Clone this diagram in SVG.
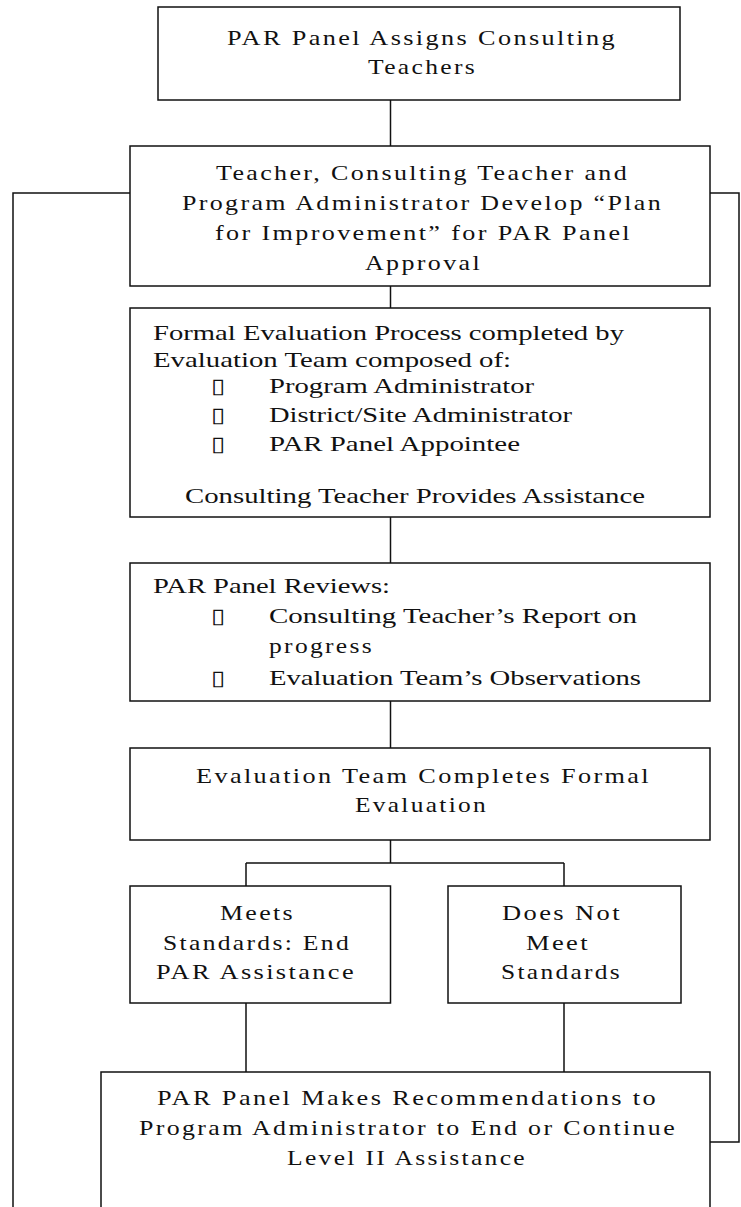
<svg xmlns="http://www.w3.org/2000/svg" width="741" height="1207" viewBox="0 0 741 1207">
<style>
rect.box{fill:#fff;stroke:#111;stroke-width:1.5}
.conn path{fill:none;stroke:#111;stroke-width:1.5}
text{font-family:"Liberation Serif","Times New Roman",serif;font-size:22px;fill:#111}
text.sp{letter-spacing:2px}
text.b{font-family:"DejaVu Sans",sans-serif;font-size:21px}
</style>
<rect width="741" height="1207" fill="#fff"/>
<g class="conn" id="connectors">
<path d="M390.5 100V146"/>
<path d="M130 193H13V1210"/>
<path d="M710 193H739V1142H710"/>
<path d="M390.5 286V308"/>
<path d="M390.5 517V563"/>
<path d="M390.5 701V748"/>
<path d="M390.5 840V863M246 863H564M246 863V886M564 863V886"/>
<path d="M246 1003V1072M564 1003V1072"/>
</g>
<g id="n1">
<rect class="box" x="158" y="7" width="522" height="93"/>
<text class="sp" x="227" y="45" textLength="390" lengthAdjust="spacingAndGlyphs">PAR Panel Assigns Consulting</text>
<text class="sp" x="368" y="74" textLength="109" lengthAdjust="spacingAndGlyphs">Teachers</text>
</g>
<g id="n2">
<rect class="box" x="130" y="146" width="580" height="140"/>
<text class="sp" x="216" y="180" textLength="413" lengthAdjust="spacingAndGlyphs">Teacher, Consulting Teacher and</text>
<text class="sp" x="182" y="210" textLength="481" lengthAdjust="spacingAndGlyphs">Program Administrator Develop “Plan</text>
<text class="sp" x="215" y="240" textLength="417" lengthAdjust="spacingAndGlyphs">for Improvement” for PAR Panel</text>
<text class="sp" x="365" y="270" textLength="117" lengthAdjust="spacingAndGlyphs">Approval</text>
</g>
<g id="n3">
<rect class="box" x="130" y="308" width="580" height="209"/>
<text x="153" y="340" textLength="471" lengthAdjust="spacingAndGlyphs">Formal Evaluation Process completed by</text>
<text x="153" y="367" textLength="358" lengthAdjust="spacingAndGlyphs">Evaluation Team composed of:</text>
<text class="b" x="211" y="393" textLength="14" lengthAdjust="spacingAndGlyphs">▯</text>
<text x="269" y="393" textLength="265" lengthAdjust="spacingAndGlyphs">Program Administrator</text>
<text class="b" x="211" y="422" textLength="14" lengthAdjust="spacingAndGlyphs">▯</text>
<text x="269" y="422" textLength="303" lengthAdjust="spacingAndGlyphs">District/Site Administrator</text>
<text class="b" x="211" y="451" textLength="14" lengthAdjust="spacingAndGlyphs">▯</text>
<text x="269" y="451" textLength="251" lengthAdjust="spacingAndGlyphs">PAR Panel Appointee</text>
<text x="185" y="503" textLength="460" lengthAdjust="spacingAndGlyphs">Consulting Teacher Provides Assistance</text>
</g>
<g id="n4">
<rect class="box" x="130" y="563" width="580" height="138"/>
<text x="153" y="593" textLength="237" lengthAdjust="spacingAndGlyphs">PAR Panel Reviews:</text>
<text class="b" x="211" y="623" textLength="14" lengthAdjust="spacingAndGlyphs">▯</text>
<text x="269" y="623" textLength="368" lengthAdjust="spacingAndGlyphs">Consulting Teacher’s Report on</text>
<text class="sp" x="269" y="653" textLength="105" lengthAdjust="spacingAndGlyphs">progress</text>
<text class="b" x="211" y="685" textLength="14" lengthAdjust="spacingAndGlyphs">▯</text>
<text x="269" y="685" textLength="372" lengthAdjust="spacingAndGlyphs">Evaluation Team’s Observations</text>
</g>
<g id="n5">
<rect class="box" x="130" y="748" width="580" height="92"/>
<text class="sp" x="196" y="783" textLength="455" lengthAdjust="spacingAndGlyphs">Evaluation Team Completes Formal</text>
<text class="sp" x="355" y="812" textLength="133" lengthAdjust="spacingAndGlyphs">Evaluation</text>
</g>
<g id="n6">
<rect class="box" x="130" y="886" width="260.5" height="117"/>
<text class="sp" x="220" y="920" textLength="75" lengthAdjust="spacingAndGlyphs">Meets</text>
<text class="sp" x="163" y="950" textLength="188" lengthAdjust="spacingAndGlyphs">Standards: End</text>
<text class="sp" x="156" y="979" textLength="200" lengthAdjust="spacingAndGlyphs">PAR Assistance</text>
</g>
<g id="n7">
<rect class="box" x="448" y="886" width="233" height="117"/>
<text class="sp" x="502" y="920" textLength="120" lengthAdjust="spacingAndGlyphs">Does Not</text>
<text class="sp" x="526" y="950" textLength="64" lengthAdjust="spacingAndGlyphs">Meet</text>
<text class="sp" x="501" y="979" textLength="121" lengthAdjust="spacingAndGlyphs">Standards</text>
</g>
<g id="n8">
<rect class="box" x="101" y="1072" width="609" height="140"/>
<text class="sp" x="157" y="1105" textLength="501" lengthAdjust="spacingAndGlyphs">PAR Panel Makes Recommendations to</text>
<text class="sp" x="139" y="1135" textLength="538" lengthAdjust="spacingAndGlyphs">Program Administrator to End or Continue</text>
<text class="sp" x="287" y="1165" textLength="240" lengthAdjust="spacingAndGlyphs">Level II Assistance</text>
</g>
</svg>
